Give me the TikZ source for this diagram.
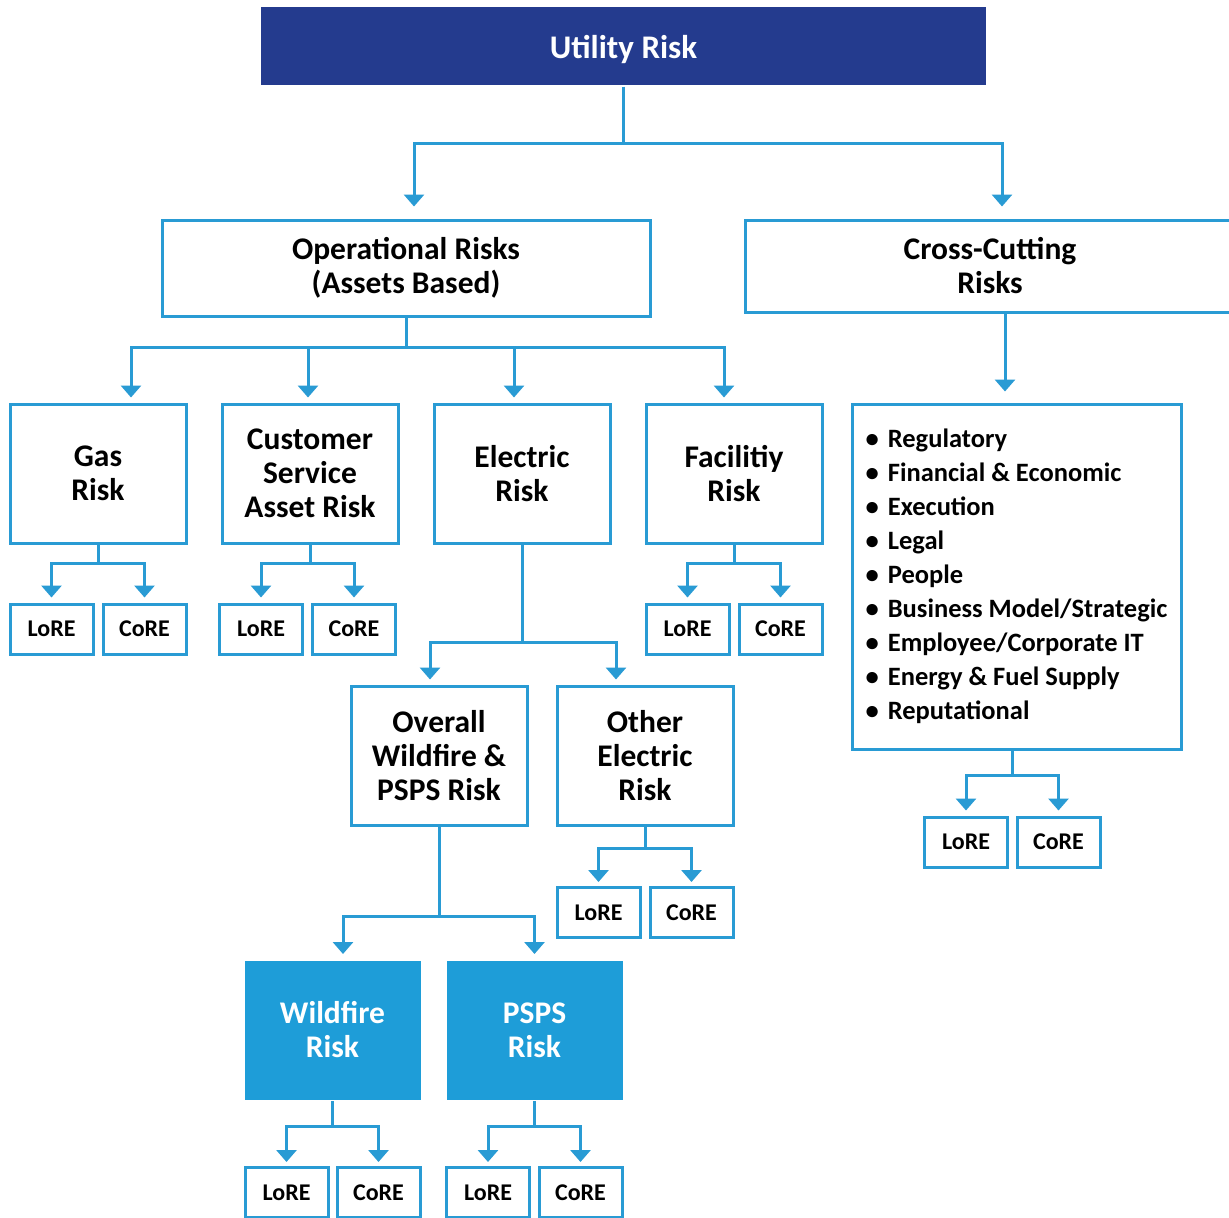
\documentclass[tikz,border=0pt]{standalone}
\usepackage{fontspec}
\setmainfont{Carlito}
\usetikzlibrary{arrows.meta}
\definecolor{navy}{RGB}{36,59,142}
\definecolor{lineblue}{RGB}{41,155,212}
\definecolor{fillblue}{RGB}{30,157,216}
\tikzset{
  box/.style={draw=lineblue, line width=3pt, fill=white, align=center, inner sep=0pt,
    font=\bfseries\fontsize{31.5}{34}\selectfont},
  bigbox/.style={box, minimum width=176, minimum height=139},
  hotbox/.style={bigbox, fill=fillblue, draw=none, text=white},
  smallbox/.style={box, minimum width=83, minimum height=50,
    font=\bfseries\fontsize{24}{28}\selectfont},
  conn/.style={draw=lineblue, line width=3pt},
  arr/.style={conn, -{Triangle[width=20pt,length=12pt]}, shorten >=5pt},
}
\begin{document}
\begin{tikzpicture}[x=1pt, y=-1pt]
\path[use as bounding box, fill=white] (0,0) rectangle (1229,1218);

% top level
\node[box, fill=navy, draw=none, text=white, minimum width=725, minimum height=78,
  text height=28pt, text depth=4pt,
  font=\bfseries\fontsize{33}{38}\selectfont] (util) at (623.5,46) {Utility Risk};
\node[box, minimum width=488, minimum height=96] (op) at (406,268) {Operational Risks\\(Assets Based)};
\node[box, minimum width=490, minimum height=92] (cross) at (990,266) {Cross-Cutting\\Risks};

\coordinate (j0) at (623.5,143);
\draw[conn] (util.south) -- (j0);
\draw[arr, shorten >=12pt] (j0) -| ([xshift=8]op.north);
\draw[arr, shorten >=12pt] (j0) -| ([xshift=12]cross.north);

% operational risks
\node[bigbox] (gas)  at (98,473.5)  {Gas\\Risk};
\node[bigbox] (cust) at (310,473.5) {Customer\\Service\\Asset Risk};
\node[bigbox] (elec) at (522,473.5) {Electric\\Risk};
\node[bigbox] (fac)  at (734,473.5) {Facilitiy\\Risk};

\coordinate (j1) at (406,347);
\draw[conn] (op.south) -- (j1);
\draw[arr] (j1) -| ([xshift=33]gas.north);
\draw[arr] (j1) -| ([xshift=-2]cust.north);
\draw[arr] (j1) -| ([xshift=-8]elec.north);
\draw[arr] (j1) -| ([xshift=-10]fac.north);

\node[smallbox] (gasL)  at (51.5,629)  {LoRE};
\node[smallbox] (gasC)  at (144.5,629) {CoRE};
\node[smallbox] (custL) at (261,629)   {LoRE};
\node[smallbox] (custC) at (354,629)   {CoRE};
\node[smallbox] (facL)  at (687.5,629) {LoRE};
\node[smallbox] (facC)  at (780.5,629) {CoRE};

\coordinate (g1) at (98,563);
\draw[conn] (gas.south) -- (g1);
\draw[arr] (g1) -| (gasL.north);
\draw[arr] (g1) -| (gasC.north);

\coordinate (c1) at (310,563);
\draw[conn] (cust.south) -- (c1);
\draw[arr] (c1) -| (custL.north);
\draw[arr] (c1) -| (custC.north);

\coordinate (f1) at (734,563);
\draw[conn] (fac.south) -- (f1);
\draw[arr] (f1) -| (facL.north);
\draw[arr] (f1) -| (facC.north);

% electric risk
\node[bigbox] (ovr) at (439,755.5) {Overall\\Wildfire \&\\PSPS Risk};
\node[bigbox] (oth) at (645,755.5) {Other\\Electric\\Risk};

\coordinate (e1) at (522,642);
\draw[conn] (elec.south) -- (e1);
\draw[arr] (e1) -| ([xshift=-9]ovr.north);
\draw[arr] (e1) -| ([xshift=-29]oth.north);

\node[smallbox] (othL) at (598.5,912.5) {LoRE};
\node[smallbox] (othC) at (691.5,912.5) {CoRE};

\coordinate (t1) at (645,848);
\draw[conn] (oth.south) -- (t1);
\draw[arr, shorten >=4pt] (t1) -| (othL.north);
\draw[arr, shorten >=4pt] (t1) -| (othC.north);

% wildfire and PSPS
\node[hotbox] (wild) at (332.5,1030) {Wildfire\\Risk};
\node[hotbox] (psps) at (534.5,1030) {PSPS\\Risk};

\coordinate (o1) at (439,916);
\draw[conn] (ovr.south) -- (o1);
\draw[arr] (o1) -| ([xshift=10.5]wild.north);
\draw[arr] (o1) -| (psps.north);

\node[smallbox] (wildL) at (286.5,1192.5) {LoRE};
\node[smallbox] (wildC) at (378.5,1192.5) {CoRE};
\node[smallbox] (pspsL) at (488,1192.5)   {LoRE};
\node[smallbox] (pspsC) at (580.5,1192.5) {CoRE};

\coordinate (w1) at (332.5,1126);
\draw[conn] (wild.south) -- (w1);
\draw[arr, shorten >=4pt] (w1) -| (wildL.north);
\draw[arr, shorten >=4pt] (w1) -| (wildC.north);

\coordinate (p1) at (534.5,1126);
\draw[conn] (psps.south) -- (p1);
\draw[arr, shorten >=4pt] (p1) -| (pspsL.north);
\draw[arr, shorten >=4pt] (p1) -| (pspsC.north);

% cross-cutting risks
\node[box, minimum width=329, minimum height=345,
  font=\bfseries\fontsize{26.5}{34}\selectfont] (list) at (1016.5,576.5)
  {\raisebox{0pt}[0pt][0pt]{}\begin{tabular}{@{}l@{\hspace{9pt}}l@{}}
   \textbullet & Regulatory\\
   \textbullet & Financial \& Economic\\
   \textbullet & Execution\\
   \textbullet & Legal\\
   \textbullet & People\\
   \textbullet & Business Model/Strategic\\
   \textbullet & Employee/Corporate IT\\
   \textbullet & Energy \& Fuel Supply\\
   \textbullet & Reputational
   \end{tabular}};
\draw[arr, shorten >=11pt] ([xshift=15]cross.south) -- ([xshift=-11.5]list.north);

\node[smallbox] (listL) at (966,842)    {LoRE};
\node[smallbox] (listC) at (1058.5,842) {CoRE};

\coordinate (l1) at (1012,775);
\draw[conn] ([xshift=-4.5]list.south) -- (l1);
\draw[arr] (l1) -| (listL.north);
\draw[arr] (l1) -| (listC.north);
\end{tikzpicture}
\end{document}
